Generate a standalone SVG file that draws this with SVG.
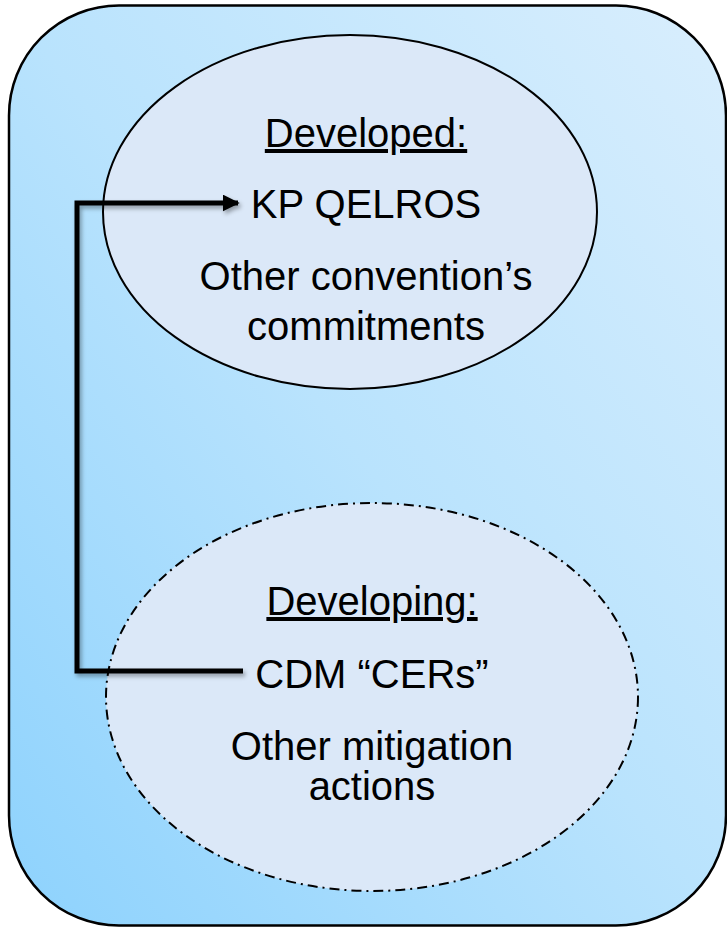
<svg xmlns="http://www.w3.org/2000/svg" width="727" height="928" viewBox="0 0 727 928">
  <defs>
    <linearGradient id="bg" x1="0" y1="1" x2="1" y2="0">
      <stop offset="0" stop-color="#8dd2fd"/>
      <stop offset="0.5" stop-color="#b9e3fd"/>
      <stop offset="1" stop-color="#d9eefd"/>
    </linearGradient>
    <filter id="shadow" x="-10%" y="-10%" width="130%" height="130%">
      <feDropShadow dx="2" dy="3" stdDeviation="2" flood-color="#000" flood-opacity="0.35"/>
    </filter>
    <marker id="arrow" viewBox="0 0 10 10" refX="9" refY="5" markerWidth="3.4" markerHeight="3.4" markerUnits="strokeWidth" orient="auto">
      <path d="M0,0 L10,5 L0,10 Z" fill="#000"/>
    </marker>
  </defs>
  <style>
    .lbl { font-family: "Liberation Sans", Arial, sans-serif; font-size: 40px; fill: #000; text-anchor: middle; }
    .ul { text-decoration: underline; }
    .ell { fill: #dbe8f8; stroke: #000; stroke-width: 2; }
    .conn { fill: none; stroke: #000; stroke-width: 5; }
  </style>
  <g id="frame">
    <rect x="9" y="5.5" width="717" height="920" rx="110" ry="110" fill="url(#bg)" stroke="#000" stroke-width="2.5"/>
  </g>
  <g id="developed">
    <ellipse class="ell" cx="350" cy="212" rx="247" ry="177"/>
    <text class="lbl ul" x="366" y="147">Developed:</text>
    <text class="lbl" x="366" y="218">KP QELROS</text>
    <text class="lbl" x="366" y="290">Other convention’s</text>
    <text class="lbl" x="366" y="340">commitments</text>
  </g>
  <g id="developing">
    <ellipse class="ell" cx="372" cy="697" rx="266" ry="194" stroke-width="2.4" stroke-dasharray="10 5 2 5"/>
    <text class="lbl ul" x="372" y="615">Developing:</text>
    <text class="lbl" x="372" y="688">CDM “CERs”</text>
    <text class="lbl" x="372" y="760">Other mitigation</text>
    <text class="lbl" x="372" y="800">actions</text>
  </g>
  <g id="connectors">
    <path class="conn" filter="url(#shadow)" d="M243,671 H77 V203 H238" marker-end="url(#arrow)"/>
  </g>
</svg>
